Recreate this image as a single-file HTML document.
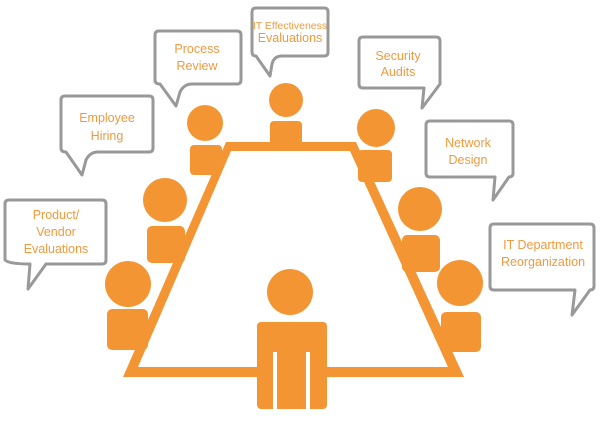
<!DOCTYPE html>
<html><head><meta charset="utf-8"><style>
html,body{margin:0;padding:0;background:#fff;width:600px;height:425px;overflow:hidden}
svg{display:block}
text{font-family:"Liberation Sans",sans-serif;fill:#f09a3e;font-size:12.5px;text-anchor:middle}
</style></head><body>
<svg width="600" height="425" viewBox="0 0 600 425">
<g fill="none" stroke="#999" stroke-width="3" stroke-linejoin="round">
<path d="M9,200 H102 Q106,200 106,204 V260 Q106,264 102,264 H46 L28,289 L30,264 Q9,264 5,260 L5,204 Q5,200 9,200 Z"/>
<path d="M65,96 H149 Q153,96 153,100 V148 Q153,152 149,152 H98 Q90,152 86,160 L82,175 L66,152 Q61,152 61,148 V100 Q61,96 65,96 Z"/>
<path d="M159,31 H237 Q241,31 241,35 V80 Q241,84 237,84 H192 Q184,84 180,92 L176,106 L160,84 Q155,84 155,80 V35 Q155,31 159,31 Z"/>
<path d="M256,8 H324 Q328,8 328,12 V52 Q328,56 324,56 H282 Q274,56 272,64 L270,76 L256,56 Q252,56 252,52 V12 Q252,8 256,8 Z"/>
<path d="M363,37 H436 Q440,37 440,41 V84 L422,108 L424,88 H363 Q359,88 359,84 V41 Q359,37 363,37 Z"/>
<path d="M430,121 H509 Q513,121 513,125 V173 Q513,177 509,177 L493,200 L495,177 H430 Q426,177 426,173 V125 Q426,121 430,121 Z"/>
<path d="M494,224 H590 Q594,224 594,228 V286 Q594,290 590,290 L572,315 L575,290 H494 Q490,290 490,286 V228 Q490,224 494,224 Z"/>
</g>
<path d="M226,142 L356,142 L464,377 L123,377 Z M231,151 L350,151 L448,367 L138,367 Z" fill="#f49533" fill-rule="evenodd"/>
<g fill="#f49533">
<circle cx="286" cy="100" r="17"/><rect x="270" y="121" width="32" height="28" rx="4"/>
<circle cx="205" cy="123" r="18"/><rect x="190" y="145" width="32" height="30" rx="4"/>
<circle cx="165" cy="200" r="22"/><rect x="147" y="226" width="38" height="37" rx="5"/>
<circle cx="128" cy="284" r="23"/><rect x="107" y="309" width="41" height="41" rx="5"/>
<circle cx="376" cy="128" r="19"/><rect x="358" y="150" width="34" height="32" rx="4"/>
<circle cx="420" cy="209" r="22"/><rect x="402" y="235" width="38" height="37" rx="5"/>
<circle cx="460" cy="283" r="23"/><rect x="441" y="312" width="40" height="40" rx="5"/>
<circle cx="290" cy="292" r="23"/>
<rect x="257" y="322" width="70" height="87" rx="4"/>
</g>
<g fill="#fff">
<rect x="273" y="352" width="4" height="58"/>
<rect x="306" y="352" width="4" height="58"/>
</g>
<text x="56" y="219">Product/</text><text x="56" y="236">Vendor</text><text x="56" y="253">Evaluations</text>
<text x="107" y="122">Employee</text><text x="107" y="140">Hiring</text>
<text x="197" y="53">Process</text><text x="197" y="70">Review</text>
<text x="290" y="29" style="font-size:10.5px">IT Effectiveness</text><text x="290" y="42">Evaluations</text>
<text x="398" y="60">Security</text><text x="398" y="76">Audits</text>
<text x="468" y="147">Network</text><text x="468" y="164">Design</text>
<text x="543" y="249">IT Department</text><text x="543" y="266">Reorganization</text>
</svg>
</body></html>
